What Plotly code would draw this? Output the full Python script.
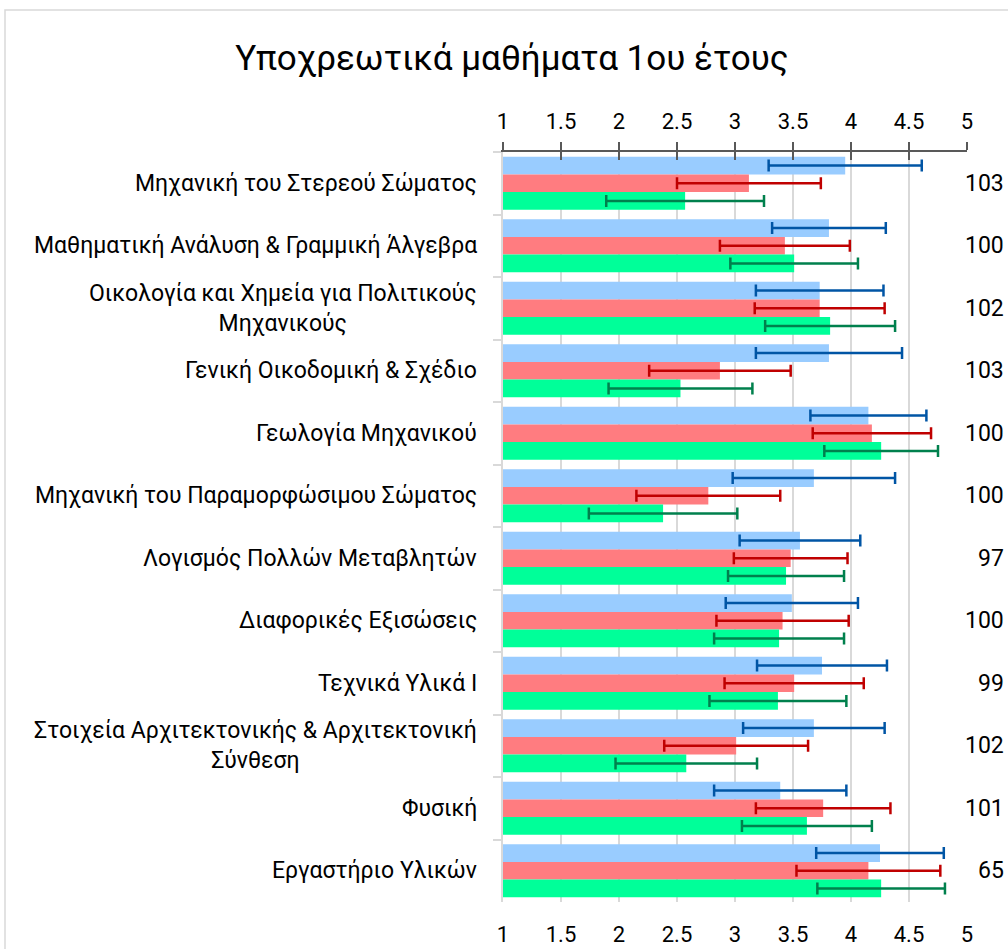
import plotly.graph_objects as go

# --------------------------------------------------------------------------- #
#  Data
# --------------------------------------------------------------------------- #
courses = [
    "Μηχανική του Στερεού Σώματος",
    "Μαθηματική Ανάλυση & Γραμμική Άλγεβρα",
    "Οικολογία και Χημεία για Πολιτικούς<br>Μηχανικούς",
    "Γενική Οικοδομική & Σχέδιο",
    "Γεωλογία Μηχανικού",
    "Μηχανική του Παραμορφώσιμου Σώματος",
    "Λογισμός Πολλών Μεταβλητών",
    "Διαφορικές Εξισώσεις",
    "Τεχνικά Υλικά Ι",
    "Στοιχεία Αρχιτεκτονικής & Αρχιτεκτονική<br>Σύνθεση",
    "Φυσική",
    "Εργαστήριο Υλικών",
]
responses = ["103", "100", "102", "103", "100", "100", "97", "100", "99", "102", "101", "65"]

blue_mean = [3.95, 3.81, 3.73, 3.81, 4.15, 3.68, 3.56, 3.49, 3.75, 3.68, 3.39, 4.25]
blue_sd   = [0.66, 0.49, 0.55, 0.63, 0.50, 0.70, 0.52, 0.57, 0.56, 0.61, 0.57, 0.55]
red_mean  = [3.12, 3.43, 3.73, 2.87, 4.18, 2.77, 3.48, 3.41, 3.51, 3.01, 3.76, 4.15]
red_sd    = [0.62, 0.56, 0.56, 0.61, 0.51, 0.62, 0.49, 0.57, 0.60, 0.62, 0.58, 0.62]
green_mean = [2.57, 3.51, 3.82, 2.53, 4.26, 2.38, 3.44, 3.38, 3.37, 2.58, 3.62, 4.26]
green_sd   = [0.68, 0.55, 0.56, 0.62, 0.49, 0.64, 0.50, 0.56, 0.59, 0.61, 0.56, 0.55]

x_ticks = [1, 1.5, 2, 2.5, 3, 3.5, 4, 4.5, 5]

FONT = "Roboto"
GRID = "#d9d9d9"
AXIS = "#595959"

# plot area in pixels
W, H = 1008, 949
L, R, T, B = 503, 967, 152, 902


def px_x(p):
    return (p - L) / (R - L)


def px_y(p):
    return (B - p) / (B - T)


series = [
    ("blue", blue_mean, blue_sd, "#99ccff", "#0055a5"),
    ("red", red_mean, red_sd, "#ff7c80", "#c00000"),
    ("green", green_mean, green_sd, "#00ff99", "#00804d"),
]

fig = go.Figure()
for name, means, sds, fill, err in series:
    fig.add_trace(go.Bar(
        y=courses, x=[m - 1 for m in means], base=1, orientation="h",
        name=name, marker=dict(color=fill, line=dict(width=0)),
        error_x=dict(type="data", array=sds, color=err, thickness=2.5, width=6),
        showlegend=False,
    ))

label_font = dict(family=FONT, size=23, color="#000000")

# left labels (centred lines, right-anchored) and right-hand counts
annotations = []
for c, n in zip(courses, responses):
    annotations.append(dict(
        x=px_x(479), y=c, xref="paper", yref="y", text=c, showarrow=False,
        xanchor="right", align="center", font=label_font,
    ))
    annotations.append(dict(
        x=px_x(1006), y=c, xref="paper", yref="y", text=n, showarrow=False,
        xanchor="right", font=label_font,
    ))

tick_font = dict(family=FONT, size=22, color="#000000")

fig.update_layout(
    width=W, height=H,
    margin=dict(l=L, r=W - R, t=T, b=H - B, autoexpand=False),
    paper_bgcolor="white", plot_bgcolor="white",
    barmode="group", bargap=0.15, bargroupgap=0,
    title=dict(text="Υποχρεωτικά μαθήματα 1ου έτους", x=512 / W, xanchor="center",
               y=1 - 58 / H, yanchor="middle", font=dict(family=FONT, size=35, color="#000000")),
    xaxis=dict(range=[1, 5], tickvals=x_ticks, showgrid=True, gridcolor=GRID, gridwidth=1.5,
               zeroline=False, showline=False, ticks="", tickfont=tick_font,
               ticklabelstandoff=17, automargin=False),
    xaxis2=dict(range=[1, 5], tickvals=x_ticks, overlaying="x", side="top", anchor="y",
                showgrid=False, zeroline=False, showline=True, linecolor=AXIS, linewidth=2,
                ticks="outside", ticklen=8, tickwidth=2, tickcolor=AXIS, tickfont=tick_font,
                ticklabelstandoff=4, automargin=False),
    xaxis3=dict(range=[1, 5], tickvals=x_ticks, overlaying="x", side="top", anchor="y",
                showgrid=False, zeroline=False, showline=False, automargin=False,
                ticks="inside", ticklen=8, tickwidth=2, tickcolor=AXIS, showticklabels=False),
    yaxis=dict(autorange="reversed", showticklabels=False, showgrid=False, zeroline=False,
               showline=True, linecolor=GRID, linewidth=1.5, ticks="outside", ticklen=8,
               tickcolor=GRID, tickwidth=1.5, tickson="boundaries", automargin=False),
    annotations=annotations,
    shapes=[dict(type="rect", xref="paper", yref="paper",
                 x0=px_x(5), x1=px_x(1100), y0=px_y(1000), y1=px_y(10),
                 line=dict(color=GRID, width=1.5), layer="below")],
)

# empty traces so the top axes get drawn
fig.add_trace(go.Scatter(x=[None], y=[None], xaxis="x2", showlegend=False, hoverinfo="skip"))
fig.add_trace(go.Scatter(x=[None], y=[None], xaxis="x3", showlegend=False, hoverinfo="skip"))

# drop the default page margin so the figure sits at the window's top-left corner
fig.write_html("out.html", config={"displayModeBar": False},
               post_script="document.body.style.margin='0';")
